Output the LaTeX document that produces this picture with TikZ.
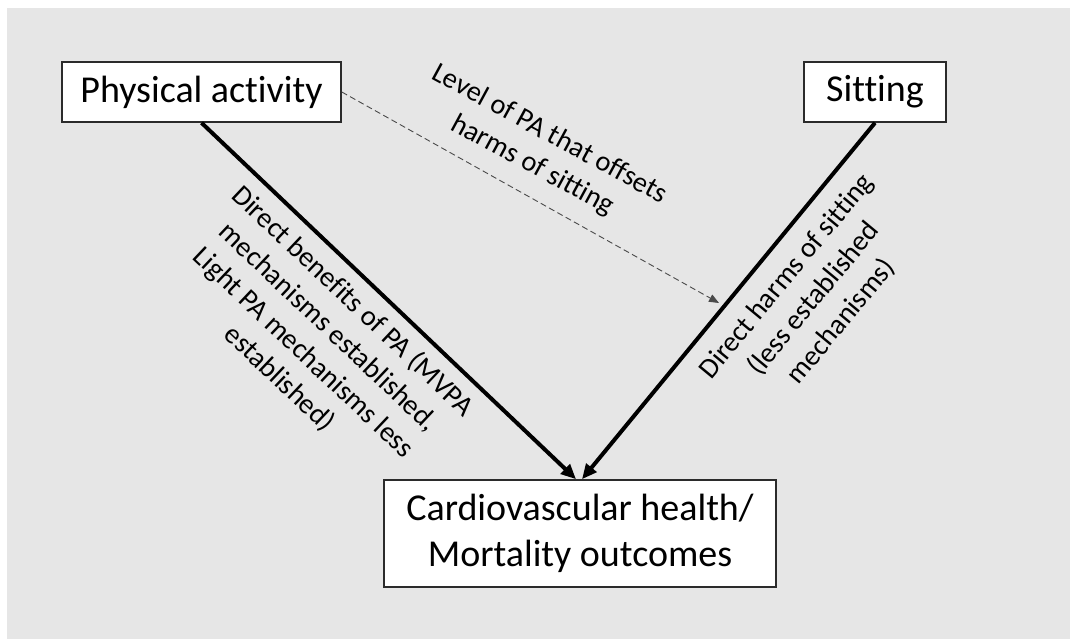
\documentclass[tikz,border=0pt]{standalone}
\usepackage{fontspec}
\setmainfont{Carlito}[Ligatures={NoCommon}]
\usetikzlibrary{arrows.meta,calc}
\definecolor{panel}{HTML}{E6E6E6}
\definecolor{boxline}{HTML}{2B2B2B}
\definecolor{dashline}{HTML}{4A4A4A}
\begin{document}
\begin{tikzpicture}[x=1pt,y=-1pt,
  factor/.style={draw=boxline,line width=1.6pt,fill=white,inner sep=0pt,
    font=\fontsize{38}{46.4}\selectfont,align=center},
  pathlabel/.style={font=\fontsize{28.5}{35.5}\selectfont,align=center,inner sep=0pt},
  effect/.style={line width=4pt,-{Triangle[length=15pt,width=13pt]}},
  offset/.style={draw=dashline,line width=0.9pt,dash pattern=on 6pt off 3.5pt,
    -{Triangle[length=10pt,width=8pt]}}]
  % canvas and grey panel
  \useasboundingbox (0,0) rectangle (1070,639);
  \fill[panel] (7,8) rectangle (1070,639);

  % factors and outcome
  \node[factor,minimum width=279pt,minimum height=60pt] (pa) at (201.5,92) {Physical activity};
  \node[factor,minimum width=142pt,minimum height=60pt] (sit) at (875,92) {Sitting};
  \node[factor,minimum width=392pt,minimum height=107pt] (cv) at (580,533.5)
    {Cardiovascular health/\\Mortality outcomes};

  % direct pathways
  \draw[effect] (pa.south) -- ($(cv.north)+(-4,0)$);
  \draw[effect] (sit.south) -- ($(cv.north)+(2,0)$);

  % offsetting pathway onto the sitting arrow
  \coordinate (meet) at (719,303);
  \draw[offset] (pa.east) -- (meet);

  % pathway labels
  \node[pathlabel,rotate=-43.4] (lblpa) at (316,340)
    {Direct benefits of PA (MVPA\\mechanisms established,\\Light PA mechanisms less\\established)};
  \node[pathlabel,rotate=50.4] (lblsit) at (814,299)
    {Direct harms of sitting\\(less established\\mechanisms)};
  \node[pathlabel,rotate=-28.5] (lbloff) at (541,150)
    {Level of PA that offsets\\harms of sitting};
\end{tikzpicture}
\end{document}
